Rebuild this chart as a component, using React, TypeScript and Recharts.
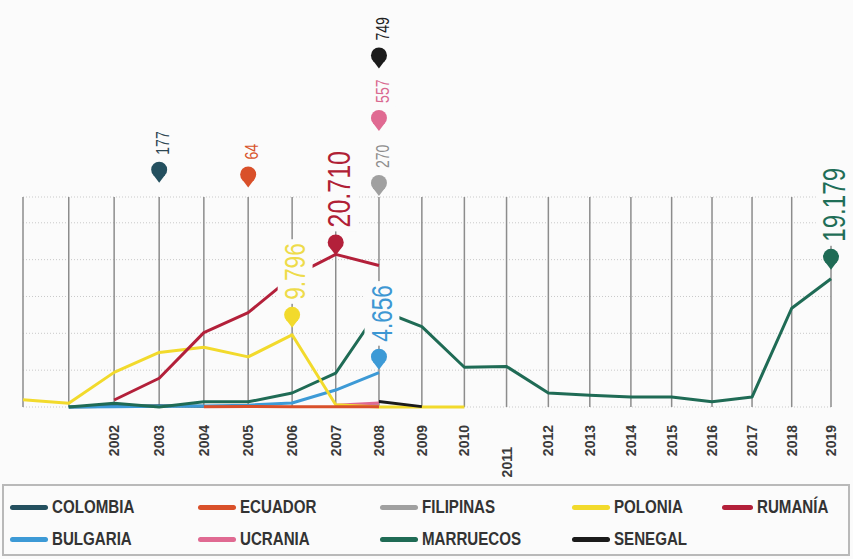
import { LineChart, Line, XAxis, YAxis, CartesianGrid, ReferenceDot, Legend } from "recharts";

const years = [2000, 2001, 2002, 2003, 2004, 2005, 2006, 2007, 2008, 2009, 2010, 2011, 2012, 2013, 2014, 2015, 2016, 2017, 2018, 2019];
const hiddenYears = [2000, 2001];
const yTicks = [0, 5000, 10000, 15000, 20000, 25000];

// values per year, 2000 → 2019 (null = no data)
const colombia = [null, 0, 100, 177, 90, null, null, null, null, null, null, null, null, null, null, null, null, null, null, null];
const ecuador = [null, null, null, null, 30, 64, 50, 40, 20, null, null, null, null, null, null, null, null, null, null, null];
const filipinas = [null, null, null, null, null, null, null, 120, 270, null, null, null, null, null, null, null, null, null, null, null];
const polonia = [1000, 500, 4700, 7400, 8100, 6800, 9796, 300, 0, 0, 0, null, null, null, null, null, null, null, null, null];
const rumania = [null, null, 950, 3900, 10100, 12800, 17700, 20710, 19200, null, null, null, null, null, null, null, null, null, null, null];
const bulgaria = [null, 0, 50, 100, 150, 250, 550, 2300, 4656, null, null, null, null, null, null, null, null, null, null, null];
const ucrania = [null, null, null, null, null, null, null, 250, 557, null, null, null, null, null, null, null, null, null, null, null];
const marruecos = [null, 0, 500, 0, 700, 700, 1900, 4600, 13200, 10900, 5400, 5500, 1900, 1600, 1350, 1350, 700, 1350, 13400, 17400];
const senegal = [null, null, null, null, null, null, null, null, 749, 50, null, null, null, null, null, null, null, null, null, null];

const series = [
  { key: "colombia", name: "COLOMBIA", values: colombia, color: "#24505f" },
  { key: "ecuador", name: "ECUADOR", values: ecuador, color: "#d9502a" },
  { key: "filipinas", name: "FILIPINAS", values: filipinas, color: "#a0a0a0" },
  { key: "polonia", name: "POLONIA", values: polonia, color: "#f2da2c" },
  { key: "rumania", name: "RUMANÍA", values: rumania, color: "#b3203a" },
  { key: "bulgaria", name: "BULGARIA", values: bulgaria, color: "#3d9ad6" },
  { key: "ucrania", name: "UCRANIA", values: ucrania, color: "#e06a92" },
  { key: "marruecos", name: "MARRUECOS", values: marruecos, color: "#1f6b55" },
  { key: "senegal", name: "SENEGAL", values: senegal, color: "#1b1b1b" },
];

// drawing order, bottom first
const drawOrder = ["filipinas", "ucrania", "colombia", "bulgaria", "marruecos", "polonia", "rumania", "ecuador", "senegal"];

// callout pins: which series, which year, printed label
const calloutKeys = ["colombia", "ecuador", "filipinas", "ucrania", "senegal", "rumania", "polonia", "bulgaria", "marruecos"];
const calloutYears = [2003, 2005, 2008, 2008, 2008, 2007, 2006, 2008, 2019];
const calloutLabels = ["177", "64", "270", "557", "749", "20.710", "9.796", "4.656", "19.179"];

const data = years.map((year, i) => {
  const row: Record<string, number | null> = { year };
  series.forEach((s) => (row[s.key] = s.values[i]));
  return row;
});

const FONT = "'Liberation Sans', Arial, sans-serif";
const BG = "#fbfbfb";

// the printed page is photographed at a slight angle: years get a bit
// narrower towards the right. small bend on an otherwise linear scale.
const BEND = 0.08;
function slantScale(dom: number[] = [0, 1], rng: number[] = [0, 1]): any {
  const s: any = (v: number) => {
    const t = (v - dom[0]) / (dom[1] - dom[0]);
    return rng[0] + (rng[1] - rng[0]) * (t + BEND * t * (1 - t));
  };
  s.domain = (d?: number[]) => (d === undefined ? dom.slice() : ((dom = d.map(Number)), s));
  s.range = (r?: number[]) => (r === undefined ? rng.slice() : ((rng = r.map(Number)), s));
  s.copy = () => slantScale(dom, rng);
  s.ticks = () => years.filter((y) => y >= dom[0] && y <= dom[1]);
  s.tickFormat = () => (v: number) => String(v);
  s.nice = () => s;
  s.clamp = () => s;
  return s;
}
const xScale = slantScale();

// pixel lift of each pin above its data point, and label size
const pinStyle: Record<string, { lift: number; fs: number; text: string }> = {
  colombia: { lift: 236, fs: 18, text: "#2c4652" },
  ecuador: { lift: 232, fs: 18, text: "#d8542c" },
  filipinas: { lift: 222, fs: 18, text: "#8d8d8d" },
  ucrania: { lift: 285, fs: 18, text: "#d9688f" },
  senegal: { lift: 346, fs: 18, text: "#222222" },
  rumania: { lift: 12, fs: 32, text: "#b02035" },
  polonia: { lift: 20, fs: 29, text: "#eedb4a" },
  bulgaria: { lift: 16, fs: 29, text: "#3d97d3" },
  marruecos: { lift: 22, fs: 31, text: "#1f6e57" },
};

const SQUEEZE = 0.78;

const makePin = (color: string, label: string, st: { lift: number; fs: number; text: string }) => (props: any) => {
  const { cx, cy } = props;
  const py = cy - st.lift;
  const r = 8;
  const len = label.split("").reduce((a, c) => a + (c === "." ? 0.278 : 0.556), 0) * st.fs * SQUEEZE;
  const w = st.fs * 0.72;
  return (
    <g>
      <rect x={cx + 3 - w / 2 - 7} y={py - 15 - len - 4} width={w + 14} height={len + 8} fill={BG} />
      <path d={`M${cx - 6},${py + 5} L${cx},${py + 13} L${cx + 6},${py + 5} Z`} fill={color} />
      <circle cx={cx} cy={py} r={r} fill={color} />
      <text
        transform={`translate(${cx + 3},${py - 15}) rotate(-90) scale(${SQUEEZE},1)`}
        textAnchor="start"
        dominantBaseline="central"
        fontFamily={FONT}
        fontSize={st.fs}
        fill={st.text}
      >
        {label}
      </text>
    </g>
  );
};

const YearTick = (props: any) => {
  const { x, y, payload } = props;
  if (hiddenYears.includes(payload.value)) return null;
  const top = y + 10 + (payload.value === 2011 ? 22 : 0);
  return (
    <text
      transform={`translate(${x},${top}) rotate(-90)`}
      textAnchor="end"
      dominantBaseline="central"
      fontFamily={FONT}
      fontWeight="bold"
      fontSize={14}
      fill="#3a3a3a"
    >
      {payload.value}
    </text>
  );
};

const columns = [188, 182, 192, 150, 120];

const renderLegend = () => (
  <div
    style={{
      border: "2px solid #b9b9b9",
      boxSizing: "border-box",
      height: 72,
      padding: "5px 0 0 6px",
      display: "grid",
      gridTemplateColumns: columns.map((c) => c + "px").join(" "),
      gridAutoRows: "32px",
      fontFamily: FONT,
      fontWeight: "bold",
      fontSize: 18,
      color: "#333",
    }}
  >
    {series.map((s) => (
      <div key={s.key} style={{ display: "flex", alignItems: "center", whiteSpace: "nowrap" }}>
        <span style={{ display: "inline-block", width: 38, height: 5, borderRadius: 3, background: s.color, marginRight: 4 }} />
        <span style={{ display: "inline-block", transform: "scaleX(0.84)", transformOrigin: "left center" }}>{s.name}</span>
      </div>
    ))}
  </div>
);

export default function App() {
  return (
    <div style={{ position: "absolute", left: 0, top: 0, width: 853, height: 559, background: BG }}>
      <LineChart width={853} height={559} data={data} margin={{ top: 197, right: 22, bottom: 79, left: 23 }}>
        <CartesianGrid vertical={false} stroke="#c9c9c9" strokeDasharray="1 2" />
        <CartesianGrid horizontal={false} stroke="#8c8c8c" strokeWidth={1.5} />
        <XAxis
          dataKey="year"
          type="number"
          scale={xScale}
          domain={[2000, 2019]}
          ticks={years}
          interval={0}
          axisLine={false}
          tickLine={false}
          height={73}
          tick={<YearTick />}
        />
        <YAxis hide domain={[0, 28500]} ticks={yTicks} />
        {drawOrder.map((k) => {
          const s = series.find((x) => x.key === k)!;
          return (
            <Line
              key={k}
              dataKey={k}
              name={s.name}
              type="linear"
              stroke={s.color}
              strokeWidth={3}
              strokeLinejoin="round"
              dot={false}
              activeDot={false}
              isAnimationActive={false}
            />
          );
        })}
        {calloutKeys.map((k, i) => {
          const s = series.find((x) => x.key === k)!;
          const yi = years.indexOf(calloutYears[i]);
          return (
            <ReferenceDot
              key={"pin-" + k}
              x={calloutYears[i]}
              y={s.values[yi] as number}
              r={8}
              ifOverflow="visible"
              shape={makePin(s.color, calloutLabels[i], pinStyle[k])}
            />
          );
        })}
        <Legend
          verticalAlign="middle"
          align="center"
          layout="horizontal"
          content={renderLegend}
          wrapperStyle={{ top: 484, left: 2, width: 848, height: 72 }}
        />
      </LineChart>
    </div>
  );
}
